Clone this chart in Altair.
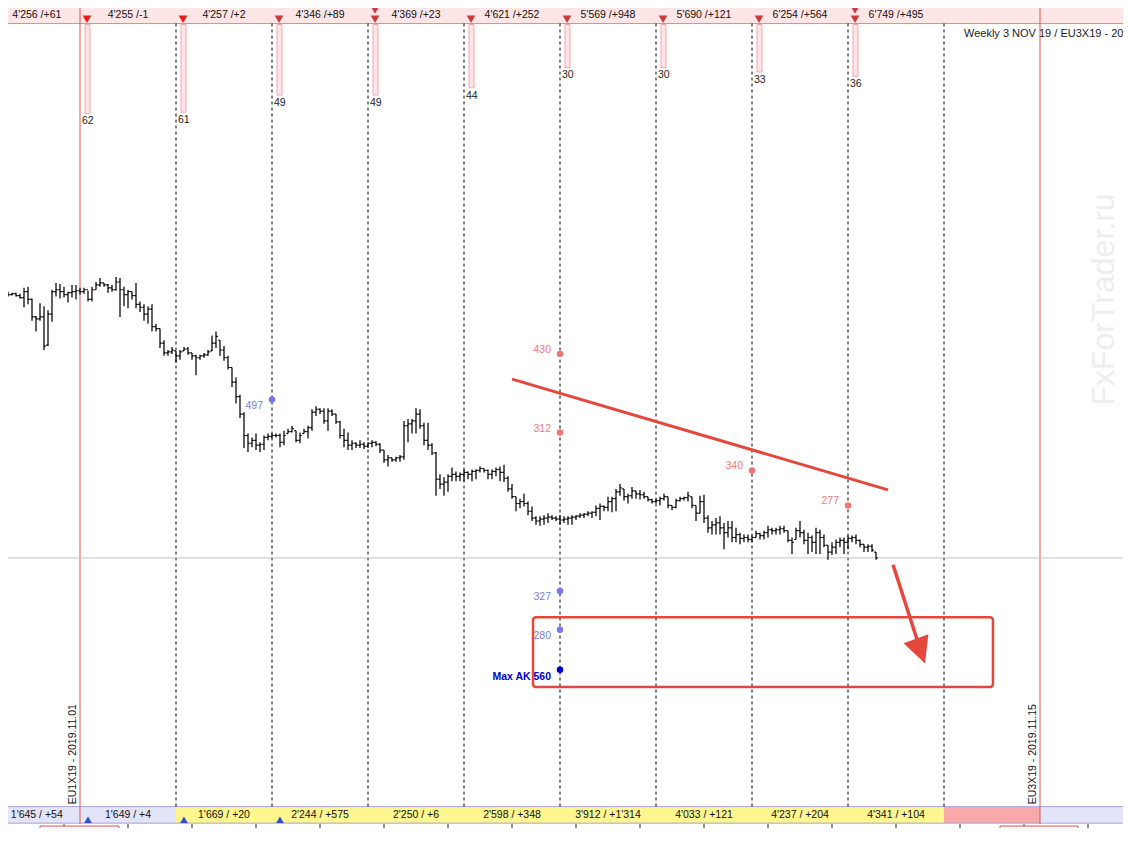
import altair as alt
import pandas as pd

# ---------------- data (Euro FX futures, 1 tick = 0.00005) ----------------
TICK = 0.00005

# hourly bars; hour 0 = start of 2019.11.01 session, 24 bars per session
hours = list(range(-20, 200))

high_t = [22349,22349,22348,22347,22347,22346,22352,22353,22341,22323,22336,22333,22329,22350,22357,22356,22353,22348,22355,22355,
          22352,22352,22349,22353,22358,22362,22357,22356,22355,22363,22362,22353,22350,22348,22357,22338,22335,22333,22335,22315,
          22310,22298,22288,22291,22287,22288,22291,22291,22285,22283,22283,22285,22288,22303,22307,22298,22292,22282,22270,22260,
          22242,22224,22202,22198,22202,22193,22200,22202,22202,22202,22202,22205,22207,22210,22205,22203,22207,22210,22227,22230,
          22228,22228,22228,22227,22222,22215,22207,22203,22195,22193,22195,22193,22193,22195,22194,22192,22185,22180,22177,22178,
          22180,22215,22217,22217,22228,22227,22213,22213,22192,22183,22160,22157,22160,22167,22163,22162,22165,22163,22165,22165,
          22168,22166,22165,22165,22167,22168,22170,22158,22150,22137,22135,22140,22132,22127,22117,22117,22118,22120,22118,22117,
          22118,22117,22117,22118,22118,22120,22120,22122,22122,22128,22130,22128,22137,22137,22145,22150,22145,22140,22147,22143,
          22144,22142,22137,22135,22135,22137,22140,22137,22128,22135,22137,22137,22142,22137,22128,22138,22139,22118,22112,22115,
          22117,22110,22112,22112,22105,22100,22098,22098,22097,22102,22100,22102,22107,22105,22105,22107,22107,22102,22095,22105,
          22112,22103,22100,22097,22105,22103,22098,22087,22090,22093,22095,22095,22097,22097,22098,22093,22088,22088,22088,22080]
low_t = [22331,22344,22343,22344,22343,22341,22332,22335,22318,22307,22318,22288,22292,22317,22343,22341,22342,22337,22342,22340,
         22345,22346,22338,22338,22350,22353,22353,22347,22348,22349,22322,22333,22331,22340,22331,22327,22318,22315,22307,22307,
         22290,22282,22282,22284,22275,22278,22287,22283,22278,22262,22278,22280,22282,22287,22290,22282,22277,22268,22250,22233,
         22218,22187,22183,22188,22185,22183,22185,22195,22197,22198,22188,22190,22202,22203,22193,22192,22202,22197,22205,22220,
         22222,22212,22205,22220,22212,22197,22188,22185,22185,22187,22187,22186,22187,22188,22189,22182,22172,22168,22173,22173,
         22173,22175,22193,22202,22202,22207,22190,22185,22180,22138,22145,22138,22142,22153,22153,22153,22153,22155,22153,22155,
         22162,22162,22155,22155,22158,22153,22152,22142,22135,22122,22125,22127,22118,22112,22108,22107,22108,22110,22113,22112,
         22108,22110,22108,22108,22113,22115,22115,22117,22115,22117,22113,22122,22122,22121,22122,22138,22133,22130,22135,22135,
         22134,22135,22132,22130,22130,22128,22133,22125,22123,22125,22132,22133,22132,22125,22112,22120,22110,22100,22098,22098,
         22098,22083,22095,22090,22090,22088,22090,22090,22090,22095,22093,22093,22095,22098,22098,22098,22100,22090,22078,22093,
         22095,22088,22078,22080,22078,22078,22085,22072,22077,22078,22085,22078,22083,22090,22088,22085,22080,22080,22080,22072]
open_t = [22340,22347,22346,22345,22346,22344,22342,22348,22340,22322,22320,22322,22293,22325,22348,22350,22348,22345,22347,22348,
          22349,22348,22350,22340,22350,22355,22357,22355,22352,22350,22358,22350,22345,22348,22344,22335,22332,22325,22330,22312,
          22310,22295,22285,22286,22287,22282,22287,22289,22285,22282,22280,22282,22283,22287,22295,22298,22288,22280,22270,22255,
          22240,22222,22200,22192,22195,22190,22191,22198,22199,22200,22200,22193,22202,22204,22205,22195,22202,22204,22208,22224,
          22227,22225,22215,22225,22222,22214,22200,22195,22190,22192,22190,22191,22189,22192,22193,22191,22185,22175,22177,22175,
          22177,22178,22210,22212,22215,22222,22210,22195,22190,22182,22155,22150,22152,22158,22160,22158,22160,22162,22160,22163,
          22164,22166,22164,22160,22163,22165,22162,22156,22145,22137,22130,22132,22130,22122,22115,22112,22114,22115,22116,22115,
          22114,22113,22114,22115,22116,22117,22118,22119,22120,22121,22125,22127,22126,22132,22135,22142,22145,22137,22138,22143,
          22140,22139,22137,22134,22132,22133,22135,22137,22128,22126,22133,22135,22136,22137,22128,22120,22132,22115,22105,22108,
          22110,22105,22100,22105,22095,22098,22094,22095,22093,22095,22099,22097,22100,22103,22102,22103,22104,22102,22092,22093,
          22102,22100,22092,22095,22090,22100,22095,22087,22080,22085,22090,22092,22090,22094,22095,22092,22088,22085,22086,22080]
close_t = [22347,22346,22345,22346,22344,22342,22348,22340,22322,22320,22322,22292,22325,22348,22350,22348,22345,22347,22348,22349,
           22348,22350,22340,22350,22355,22357,22355,22352,22350,22358,22350,22345,22348,22344,22335,22332,22325,22330,22312,22310,
           22295,22285,22286,22288,22282,22286,22289,22285,22282,22280,22282,22283,22286,22295,22302,22288,22280,22270,22255,22240,
           22222,22200,22192,22195,22190,22191,22198,22199,22200,22200,22193,22200,22204,22207,22195,22200,22204,22208,22224,22227,
           22225,22215,22225,22222,22214,22200,22195,22190,22192,22190,22191,22189,22192,22193,22191,22185,22175,22177,22175,22177,
           22178,22210,22212,22215,22222,22210,22195,22190,22182,22155,22150,22152,22158,22160,22158,22160,22162,22160,22163,22164,
           22166,22164,22160,22163,22165,22162,22156,22145,22137,22130,22132,22130,22122,22115,22112,22114,22115,22116,22115,22114,
           22113,22114,22115,22116,22117,22118,22119,22120,22121,22125,22127,22126,22132,22135,22142,22146,22137,22138,22143,22140,
           22139,22137,22134,22132,22133,22135,22137,22128,22126,22133,22135,22136,22138,22128,22120,22132,22115,22105,22108,22110,
           22105,22100,22105,22095,22098,22094,22095,22093,22095,22099,22097,22100,22103,22102,22103,22104,22102,22092,22090,22102,
           22100,22092,22095,22090,22100,22095,22087,22080,22085,22090,22092,22090,22094,22095,22092,22088,22085,22086,22082,22074]

last_price_t = 22074

# sessions (day index; day 0 = 2019.11.01, day 10 = 2019.11.15 expiry)
session_days = [-1, 0, 1, 2, 3, 4, 5, 6, 7, 8]
header_labels = ["4'256 /+61", "4'255 /-1", "4'257 /+2", "4'346 /+89", "4'369 /+23",
                 "4'621 /+252", "5'569 /+948", "5'690 /+121", "6'254 /+564", "6'749 /+495"]
footer_labels = ["1'645 / +54", "1'649 / +4", "1'669 / +20", "2'244 / +575", "2'250 / +6",
                 "2'598 / +348", "3'912 / +1'314", "4'033 / +121", "4'237 / +204", "4'341 / +104"]
footer_kind = ["blue", "blue", "yellow", "yellow", "yellow", "yellow", "yellow", "yellow", "yellow", "yellow"]

vol_days = [0, 1, 2, 3, 4, 5, 6, 7, 8]
vol_values = [62, 61, 49, 49, 44, 30, 30, 33, 36]
double_arrow_days = [3, 8]
up_arrow_days = [0, 1, 2]

dashed_days = [1, 2, 3, 4, 5, 6, 7, 8, 9]
expiry_days = [0, 10]
expiry_labels = ["EU1X19 - 2019.11.01", "EU3X19 - 2019.11.15"]

# option levels
put_days = [2, 5, 5]
put_ticks = [22237, 22040, 22000]
put_labels = ["497", "327", "280"]
call_days = [5, 5, 7, 8]
call_ticks = [22284, 22203, 22164, 22128]
call_labels = ["430", "312", "340", "277"]
max_days = [5]
max_ticks = [21959]
max_labels = ["Max AK 560"]

# hand-drawn annotations
trend_days = [4.5, 8.4167]
trend_ticks = [22258, 22144]
box_days = [4.719, 9.510]
box_ticks = [22013, 21941]
arrow_days = [8.469, 8.719]
arrow_ticks = [22067, 21990]
arrow_head_day = 8.755
arrow_head_tick = 21978

# ---------------- layout helpers ----------------
W, H = 1115, 820
RED = "#E4483C"
FONT = "Liberation Sans"


def dday(px):
    return (px - 80.0) / 96.0


def dprice(py):
    return (22640 - py) * TICK


xs = alt.Scale(domain=[dday(8), dday(1123)], nice=False, zero=False)
ys = alt.Scale(domain=[dprice(844), dprice(0)], nice=False, zero=False)


def X(f):
    return alt.X(f + ":Q", scale=xs, axis=None)


def Y(f):
    return alt.Y(f + ":Q", scale=ys, axis=None)


def rect_layer(df, **mk):
    return alt.Chart(df).mark_rect(**mk).encode(x=X("x"), x2="x2", y=Y("y"), y2="y2")


layers = []

# header band
layers.append(rect_layer(pd.DataFrame({"x": [dday(0)], "x2": [dday(1131)], "y": [dprice(0)], "y2": [dprice(16)]}),
                         fill="#FFE6E6"))
layers.append(alt.Chart(pd.DataFrame({"x": [dday(0)], "x2": [dday(1131)], "y": [dprice(16)]}))
              .mark_rule(color="#F08585", strokeWidth=1).encode(x=X("x"), x2="x2", y=Y("y")))

# footer band
fcol = {"blue": "#E4E4F8", "yellow": "#FFF68F"}
fdf = pd.DataFrame({"day": session_days, "kind": footer_kind})
fdf["x"] = fdf["day"].astype(float)
fdf["x2"] = fdf["day"] + 1.0
fdf.loc[fdf["day"] == -1, "x"] = dday(0)
fdf["c"] = fdf["kind"].map(fcol)
fdf["y"] = dprice(822)
fdf["y2"] = dprice(839)
extra = pd.DataFrame({"x": [9.0, 10.0], "x2": [10.0, dday(1131)], "c": ["#F9A9A9", "#E4E4F8"],
                      "y": [dprice(822)] * 2, "y2": [dprice(839)] * 2})
fdf = pd.concat([fdf[["x", "x2", "c", "y", "y2"]], extra], ignore_index=True)
layers.append(alt.Chart(fdf).mark_rect().encode(x=X("x"), x2="x2", y=Y("y"), y2="y2",
                                                color=alt.Color("c:N", scale=None)))
layers.append(alt.Chart(pd.DataFrame({"x": [dday(0)] * 2, "x2": [dday(1131)] * 2, "y": [dprice(822), dprice(839)]}))
              .mark_rule(color="#A4A4D8", strokeWidth=1).encode(x=X("x"), x2="x2", y=Y("y")))

# time ticks under footer (every 16 hours)
tick_hours = list(range(-20, 261, 16))
tdf = pd.DataFrame({"t": [h / 24 for h in tick_hours]})
tdf["y"] = dprice(840)
tdf["y2"] = dprice(846)
layers.append(alt.Chart(tdf).mark_rule(color="#222", strokeWidth=1).encode(x=X("t"), y=Y("y"), y2="y2"))
# date label boxes (cut at bottom edge)
bdf = pd.DataFrame({"x": [dday(40), dday(1000)], "x2": [dday(119), dday(1078)],
                    "y": [dprice(842)] * 2, "y2": [dprice(860)] * 2})
layers.append(rect_layer(bdf, fill="white", stroke="#D05050", strokeWidth=1))

# vertical session separators
ddf = pd.DataFrame({"t": [float(d) for d in dashed_days]})
ddf["y"] = dprice(16)
ddf["y2"] = dprice(822)
layers.append(alt.Chart(ddf).mark_rule(color="#000", strokeWidth=1, strokeDash=[3, 3])
              .encode(x=X("t"), y=Y("y"), y2="y2"))
edf = pd.DataFrame({"t": [float(d) for d in expiry_days]})
edf["y"] = dprice(0)
edf["y2"] = dprice(840)
layers.append(alt.Chart(edf).mark_rule(color="#E05555", strokeWidth=1).encode(x=X("t"), y=Y("y"), y2="y2"))

# last price line
layers.append(alt.Chart(pd.DataFrame({"x": [dday(0)], "x2": [dday(1131)], "y": [last_price_t * TICK]}))
              .mark_rule(color="#C4C4C4", strokeWidth=1).encode(x=X("x"), x2="x2", y=Y("y")))

# OHLC bars
bars = pd.DataFrame({"hour": hours, "high": high_t, "low": low_t, "open": open_t, "close": close_t})
bars["t"] = bars["hour"] / 24.0
for c in ["high", "low", "open", "close"]:
    bars[c] = bars[c] * TICK
bars["tl"] = bars["t"] - 1.8 / 96
bars["tr"] = bars["t"] + 1.8 / 96
layers.append(alt.Chart(bars).mark_rule(color="#000", strokeWidth=1.25).encode(x=X("t"), y=Y("high"), y2="low"))
layers.append(alt.Chart(bars).mark_rule(color="#000", strokeWidth=1.2).encode(x=X("tl"), x2="t", y=Y("open")))
layers.append(alt.Chart(bars).mark_rule(color="#000", strokeWidth=1.2).encode(x=X("t"), x2="tr", y=Y("close")))

# trend line
trdf = pd.DataFrame({"t": trend_days, "p": [v * TICK for v in trend_ticks]})
layers.append(alt.Chart(trdf).mark_line(color=RED, strokeWidth=3).encode(x=X("t"), y=Y("p")))

# target box
bxdf = pd.DataFrame({"x": [box_days[0]], "x2": [box_days[1]], "y": [box_ticks[0] * TICK], "y2": [box_ticks[1] * TICK]})
layers.append(rect_layer(bxdf, fillOpacity=0, stroke=RED, strokeWidth=2.5, cornerRadius=3))

# arrow
ardf = pd.DataFrame({"t": arrow_days, "p": [v * TICK for v in arrow_ticks]})
layers.append(alt.Chart(ardf).mark_line(color=RED, strokeWidth=3.5).encode(x=X("t"), y=Y("p")))
layers.append(alt.Chart(pd.DataFrame({"t": [arrow_head_day], "p": [arrow_head_tick * TICK]}))
              .mark_point(shape="M-1,-1L1,-1L0,1Z", filled=True, color=RED, opacity=1, size=700, angle=340)
              .encode(x=X("t"), y=Y("p")))


# option level dots + labels
def level_layers(days, ticks, labels, dot_color, text_color, dy, bold=False):
    df = pd.DataFrame({"t": [float(d) for d in days], "p": [v * TICK for v in ticks], "label": labels})
    pts = alt.Chart(df).mark_point(filled=True, color=dot_color, opacity=1, size=42).encode(x=X("t"), y=Y("p"))
    txt = alt.Chart(df).mark_text(align="right", baseline="middle", dx=-9, dy=dy, font=FONT,
                                  fontSize=10.5, color=text_color,
                                  fontWeight="bold" if bold else "normal").encode(x=X("t"), y=Y("p"), text="label:N")
    return [pts, txt]


layers += level_layers(put_days, put_ticks, put_labels, "#7878EC", "#7D7DDD", 6)
layers += level_layers(call_days, call_ticks, call_labels, "#F07575", "#F07C7C", -4)
layers += level_layers(max_days, max_ticks, max_labels, "#0000D0", "#0000C8", 7, bold=True)

# header labels
hdf = pd.DataFrame({"day": session_days, "label": header_labels})
hdf["t"] = hdf["day"] + 0.5
hdf.loc[hdf["day"] == -1, "t"] = -0.45
hdf["y"] = dprice(7)
layers.append(alt.Chart(hdf).mark_text(font=FONT, fontSize=10.5, color="#111", baseline="middle")
              .encode(x=X("t"), y=Y("y"), text="label:N"))

# header arrows
adf = pd.DataFrame({"t": [d + 7 / 96 for d in vol_days], "y": [dprice(11.5)] * len(vol_days),
                    "bright": [d < 2 for d in vol_days]})
layers.append(alt.Chart(adf[adf["bright"]]).mark_point(shape="triangle-down", filled=True, color="#F01818",
                                                         opacity=1, size=75).encode(x=X("t"), y=Y("y")))
layers.append(alt.Chart(adf[~adf["bright"]]).mark_point(shape="triangle-down", filled=True, color="#CC3B3B",
                                                          opacity=1, size=75).encode(x=X("t"), y=Y("y")))
a2df = pd.DataFrame({"t": [d + 7 / 96 for d in double_arrow_days], "y": [dprice(2.5)] * len(double_arrow_days)})
layers.append(alt.Chart(a2df).mark_point(shape="triangle-down", filled=True, color="#CC3B3B",
                                          opacity=1, size=60).encode(x=X("t"), y=Y("y")))

# volume bars hanging from the header
vdf = pd.DataFrame({"day": vol_days, "v": vol_values})
vdf["x"] = vdf["day"] + 5 / 96
vdf["x2"] = vdf["day"] + 10 / 96
vdf["y"] = dprice(17)
vdf["y2"] = (22640 - 17 - 1.48 * vdf["v"]) * TICK
vdf["ty"] = (22640 - 17 - 1.48 * vdf["v"] - 8) * TICK
vdf["tx"] = vdf["day"] + 2 / 96
vdf["label"] = vdf["v"].astype(str)
layers.append(rect_layer(vdf, fill="#FFE4E6", stroke="#F2A8AE", strokeWidth=1))
layers.append(alt.Chart(vdf).mark_text(align="left", baseline="middle", font=FONT, fontSize=10.5,
                                       color="#222").encode(x=X("tx"), y=Y("ty"), text="label:N"))

# footer labels
fldf = pd.DataFrame({"day": session_days, "label": footer_labels})
fldf["t"] = fldf["day"] + 0.5
fldf.loc[fldf["day"] == -1, "t"] = -0.45
fldf["y"] = dprice(830.5)
layers.append(alt.Chart(fldf).mark_text(font=FONT, fontSize=10.5, color="#111", baseline="middle")
              .encode(x=X("t"), y=Y("y"), text="label:N"))
uadf = pd.DataFrame({"t": [d + 8 / 96 for d in up_arrow_days], "y": [dprice(835.5)] * len(up_arrow_days)})
layers.append(alt.Chart(uadf).mark_point(shape="triangle-up", filled=True, color="#2E4FE0", opacity=1, size=60)
              .encode(x=X("t"), y=Y("y")))

# expiry captions
exdf = pd.DataFrame({"t": [d - 7 / 96 for d in expiry_days], "y": [dprice(768)] * 2, "label": expiry_labels})
layers.append(alt.Chart(exdf).mark_text(angle=270, align="center", baseline="middle", font=FONT,
                                        fontSize=10.5, color="#111").encode(x=X("t"), y=Y("y"), text="label:N"))

# watermark and title
layers.append(alt.Chart(pd.DataFrame({"t": [dday(1104)], "y": [dprice(300)], "label": ["FxForTrader.ru"]}))
              .mark_text(angle=270, align="center", baseline="middle", font=FONT, fontSize=32,
                         color="#EEEEEE").encode(x=X("t"), y=Y("y"), text="label:N"))
layers.append(alt.Chart(pd.DataFrame({"t": [dday(964)], "y": [dprice(27)], "label": ["Weekly 3 NOV 19 / EU3X19 - 20"]}))
              .mark_text(align="left", baseline="middle", font=FONT, fontSize=11,
                         color="#222").encode(x=X("t"), y=Y("y"), text="label:N"))

chart = (alt.layer(*layers)
         .properties(width=W, height=H, padding=0, autosize="none", background="white")
         .configure_view(stroke=None))

chart.save("out.html", embed_options={"renderer": "svg", "actions": False})
